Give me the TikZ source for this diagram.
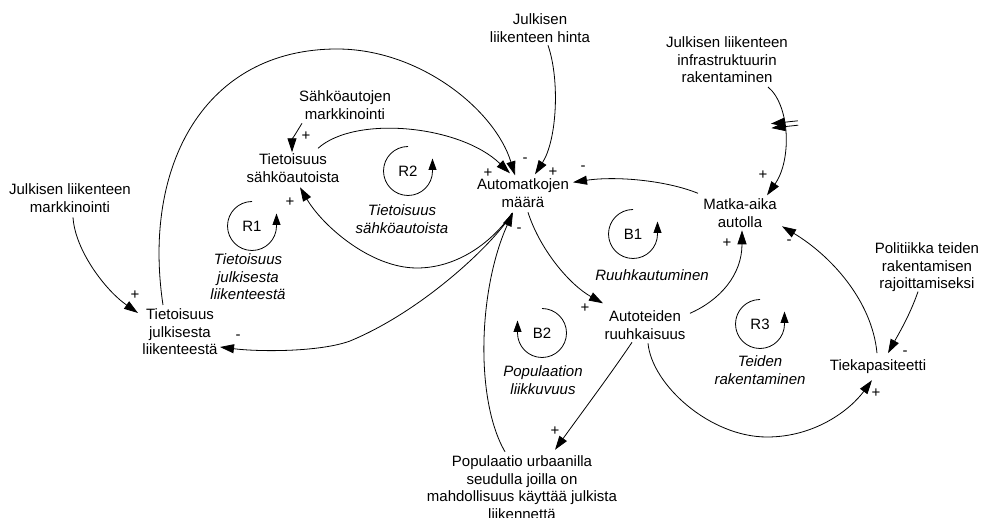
\documentclass[tikz,border=0pt]{standalone}
\usepackage{fontspec}
\setmainfont{Liberation Sans}
\usetikzlibrary{arrows.meta,decorations.markings}

\begin{document}
\begin{tikzpicture}[x=1pt,y=-1pt,
  font=\fontsize{15}{17.5}\selectfont,
  var/.style={inner sep=0pt, align=center},
  loopname/.style={inner sep=0pt, align=center, font=\fontsize{15}{17.5}\selectfont\itshape},
  sign/.style={inner sep=0pt},
  link/.style={line width=0.8pt, -{Triangle[length=14pt,width=9pt]}},
  loopmark/.style={line width=0.8pt, -{Triangle[length=11.5pt,width=8pt]}},
  delay/.style={postaction={decorate}, decoration={markings, mark=at position 0.36 with {
      \draw[line width=0.8pt] (-2.2,-13.5) -- (-2.2,13.5);
      \draw[line width=0.8pt] (2.2,-13.5) -- (2.2,13.5);}}}
]
\useasboundingbox (0,0) rectangle (985,518);

% variables
\node[var] (hinta) at (540,28.3) {Julkisen\\liikenteen hinta};
\node[var] (infra) at (727,60) {Julkisen liikenteen\\infrastruktuurin\\rakentaminen};
\node[var] (smark) at (345,105.3) {Sähköautojen\\markkinointi};
\node[var] (tsa) at (293,168.3) {Tietoisuus\\sähköautoista};
\node[var] (aut) at (523,193.3) {Automatkojen\\määrä};
\node[var] (matka) at (740,213.3) {Matka-aika\\autolla};
\node[var] (jmark) at (70,198.3) {Julkisen liikenteen\\markkinointi};
\node[var] (tjl) at (180,332) {Tietoisuus\\julkisesta\\liikenteestä};
\node[var] (ruuh) at (645,325.3) {Autoteiden\\ruuhkaisuus};
\node[var] (tiek) at (878,366.2) {Tiekapasiteetti};
\node[var] (pol) at (927,267.6) {Politiikka teiden\\rakentamisen\\rajoittamiseksi};
\node[var] (pop) at (522,487.8) {Populaatio urbaanilla\\seudulla joilla on\\mahdollisuus käyttää julkista\\liikennettä};

% loop identifiers and names
\node[var] (R1) at (252,226) {R1};
\node[var] (R2) at (408,171) {R2};
\node[var] (B1) at (633,234) {B1};
\node[var] (B2) at (542,333) {B2};
\node[var] (R3) at (760,324) {R3};
\node[loopname] (r1l) at (248,277) {Tietoisuus\\julkisesta\\liikenteestä};
\node[loopname] (r2l) at (402,219.3) {Tietoisuus\\sähköautoista};
\node[loopname] (b1l) at (652,275.6) {Ruuhkautuminen};
\node[loopname] (b2l) at (543,380.3) {Populaation\\liikkuvuus};
\node[loopname] (r3l) at (760,370.3) {Teiden\\rakentaminen};

% loop direction symbols
\draw[loopmark] ([shift={(0,-24.5)}]R1.center) arc[start angle=-90, end angle=-360, radius=24.5] -- ++(0,-12.5);
\draw[loopmark] ([shift={(0,-24.5)}]R2.center) arc[start angle=-90, end angle=-360, radius=24.5] -- ++(0,-12.5);
\draw[loopmark] ([shift={(0,-24.5)}]B1.center) arc[start angle=-90, end angle=-360, radius=24.5] -- ++(0,-12.5);
\draw[loopmark] ([shift={(0,-24.5)}]R3.center) arc[start angle=-90, end angle=-360, radius=24.5] -- ++(0,-12.5);
\draw[loopmark] ([shift={(0,-24.5)}]B2.center) arc[start angle=-90, end angle=180, radius=24.5] -- ++(0,-12.5);

% causal links
\draw[link] ([shift={(8,17)}]hinta.center) .. controls (560,80) and (557,140) .. ([shift={(12,-19)}]aut.center);
\draw[link] ([shift={(-17,-27)}]tjl.center) .. controls (142,165) and (205,49) .. (337,49)
            .. controls (420,49) and (495,110) .. ([shift={(-8,-18)}]aut.center);
\draw[link] ([shift={(-43,18)}]smark.center) .. controls (296,133) and (292,140) .. ([shift={(-1,-16)}]tsa.center);
\draw[link] ([shift={(25,-20)}]tsa.center) .. controls (355,115) and (460,125) .. ([shift={(-13,-20)}]aut.center);
\draw[link] ([shift={(-42,-20)}]matka.center) .. controls (665,180) and (615,176) .. ([shift={(50,-11)}]aut.center);
\draw[link] ([shift={(-11,20)}]aut.center) .. controls (490,245) and (455,268) .. (417,268)
            .. controls (370,268) and (322,225) .. ([shift={(7,19)}]tsa.center);
\draw[link] ([shift={(-11,20)}]aut.center) .. controls (497,240) and (425,310) .. (350,341)
            .. controls (320,352) and (260,352) .. ([shift={(40,15)}]tjl.center);
\draw[link] ([shift={(-17,-36)}]pop.center) .. controls (475,400) and (478,290) .. ([shift={(-10,19)}]aut.center);
\draw[link] ([shift={(5,19)}]aut.center) .. controls (540,250) and (570,285) .. ([shift={(-42,-22)}]ruuh.center);
\draw[link] ([shift={(45,-12)}]ruuh.center) .. controls (720,300) and (742,275) .. ([shift={(2,17)}]matka.center);
\draw[link] ([shift={(-1,-13)}]tiek.center) .. controls (872,300) and (830,255) .. ([shift={(42,13)}]matka.center);
\draw[link] ([shift={(3,18)}]ruuh.center) .. controls (652,385) and (710,437) .. (767,437)
            .. controls (815,437) and (850,410) .. ([shift={(-6,14)}]tiek.center);
\draw[link] ([shift={(-9,24)}]pol.center) .. controls (910,315) and (898,335) .. ([shift={(10,-13)}]tiek.center);
\draw[link] ([shift={(-13,17)}]ruuh.center) .. controls (610,375) and (580,415) .. ([shift={(33,-38)}]pop.center);
\draw[link] ([shift={(3,19)}]jmark.center) .. controls (75,250) and (105,290) .. ([shift={(-42,-19)}]tjl.center);
\draw[link,delay] ([shift={(41,27)}]infra.center) .. controls (790,105) and (792,160) .. ([shift={(27,-18)}]matka.center);

% link polarities
\node[sign] (pa) at (553,172) {+};
\node[sign] (pb) at (525,160) {-};
\node[sign] (pd) at (488,173) {+};
\node[sign] (pe) at (583,168) {-};
\node[sign] (ph) at (519,230) {-};
\node[sign] (pc) at (306,136) {+};
\node[sign] (pf) at (290,202) {+};
\node[sign] (pg) at (238,337) {-};
\node[sign] (po) at (135,295) {+};
\node[sign] (pi) at (585,308) {+};
\node[sign] (pj) at (727,243) {+};
\node[sign] (pk) at (789,242) {-};
\node[sign] (pp) at (763,175) {+};
\node[sign] (pm) at (905,353) {-};
\node[sign] (pl) at (876,393) {+};
\node[sign] (pn) at (555,431) {+};
\end{tikzpicture}
\end{document}
